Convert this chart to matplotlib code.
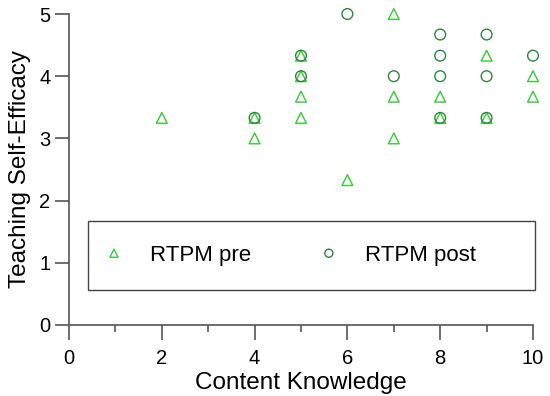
import matplotlib
matplotlib.use("Agg")
import matplotlib.pyplot as plt
from matplotlib.ticker import MultipleLocator
from matplotlib.patches import Rectangle

plt.rcParams['font.family'] = ['Liberation Sans', 'DejaVu Sans']

pre_x = [2, 4, 4, 5, 5, 5, 5, 6, 7, 7, 7, 8, 8, 9, 9, 10, 10]
pre_y = [3.33, 3.33, 3.0, 4.33, 4.0, 3.67, 3.33, 2.33, 5.0, 3.67, 3.0, 3.67, 3.33, 4.33, 3.33, 4.0, 3.67]
post_x = [4, 5, 5, 6, 7, 8, 8, 8, 8, 9, 9, 9, 10]
post_y = [3.33, 4.33, 4.0, 5.0, 4.0, 4.67, 4.33, 4.0, 3.33, 4.67, 4.0, 3.33, 4.33]
x_ticks = [0, 2, 4, 6, 8, 10]
y_ticks = [0, 1, 2, 3, 4, 5]
series_labels = ['RTPM pre', 'RTPM post']

fig = plt.figure(figsize=(5.5, 3.96), dpi=100)
ax = fig.add_axes([69/550, 1 - 325/396, (533-69)/550, (325-14)/396])

pre_color = '#33cc33'
post_color = '#2e8540'
axis_color = '#555555'
ax.scatter(pre_x, pre_y, marker='^', s=60, facecolors='none', edgecolors=pre_color,
           linewidths=1.0, label=series_labels[0], zorder=3, clip_on=False)
ax.scatter(post_x, post_y, marker='o', s=60, facecolors='none', edgecolors=post_color,
           linewidths=1.0, label=series_labels[1], zorder=4, clip_on=False)

ax.set_xlim(0, 10)
ax.set_ylim(0, 5)
ax.set_xticks(x_ticks)
ax.set_yticks(y_ticks)
ax.xaxis.set_minor_locator(MultipleLocator(1))
for s in ['top', 'right']:
    ax.spines[s].set_visible(False)
for s in ['left', 'bottom']:
    ax.spines[s].set_color(axis_color)
    ax.spines[s].set_linewidth(1.2)
ax.tick_params(axis='x', which='major', length=11, width=1.2, color=axis_color, labelsize=14.5, pad=6)
ax.tick_params(axis='y', which='major', length=10, width=1.2, color=axis_color, labelsize=14.5, pad=3.5)
ax.tick_params(axis='x', which='minor', length=5, width=1.2, color=axis_color)
ax.set_xlabel('Content Knowledge', fontsize=17.5, labelpad=3)
ax.set_ylabel('Teaching Self-Efficacy', fontsize=17.5, labelpad=6)

# legend frame
ax.add_patch(Rectangle((0.041, 0.1125), 1.004 - 0.041, 0.334 - 0.1125, transform=ax.transAxes,
                       facecolor='white', edgecolor='#444444', linewidth=1.0, clip_on=False, zorder=5))
leg = ax.legend(loc='center left', bbox_to_anchor=(0.0586, 0.2235), ncol=2, fontsize=16,
                frameon=False, borderpad=0, borderaxespad=0, handlelength=1.6, handletextpad=0.82,
                columnspacing=2.7, markerscale=0.75, scatterpoints=1, scatteryoffsets=[0.5])
leg.set_zorder(6)

fig.savefig('out.png', dpi=100)
